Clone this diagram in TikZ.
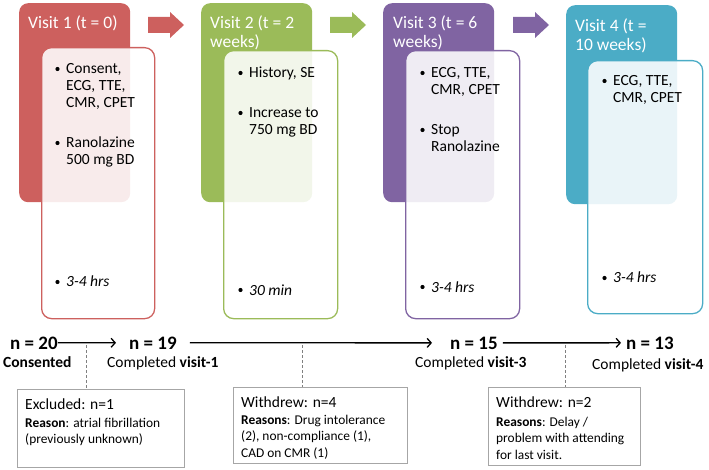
\documentclass[tikz,border=0pt]{standalone}
\usepackage{fontspec}
\setmainfont{Carlito}
\usepackage{tikz}
\usetikzlibrary{arrows.meta,positioning}
\definecolor{vred}{RGB}{205,96,94}
\definecolor{vgreen}{RGB}{155,187,89}
\definecolor{vpurple}{RGB}{128,100,162}
\definecolor{vteal}{RGB}{75,172,198}
\newcommand{\rows}[1]{\begin{tabular}[t]{@{}l@{}}#1\end{tabular}}
\tikzset{
	head/.style={rounded corners=9pt,anchor=north west,minimum width=111pt,minimum height=199pt,inner sep=0pt},
	card/.style={draw=#1,line width=1.3pt,fill=white,fill opacity=0.88,rounded corners=10pt,anchor=north west,inner sep=0pt},
	title/.style={anchor=base west,text=white,inner sep=0pt,font=\fontsize{17.5}{19}\selectfont},
	item/.style={anchor=base west,inner sep=0pt,font=\fontsize{15.5}{17}\selectfont},
	cnt/.style={anchor=base west,inner sep=0pt,font=\fontsize{19}{21}\selectfont\bfseries},
	done/.style={anchor=base west,inner sep=0pt,font=\fontsize{15.5}{17}\selectfont},
	outbox/.style={draw=gray!70,line width=1pt,anchor=north west,inner sep=0pt},
	whyhead/.style={anchor=base west,inner sep=0pt,font=\fontsize{15.5}{17}\selectfont},
	why/.style={anchor=base west,inner sep=0pt,font=\fontsize{13.4}{16.5}\selectfont},
	flow/.style={line width=1.3pt,-{Straight Barb[length=4pt,width=9pt]}},
	drop/.style={densely dashed,gray,line width=0.6pt}
}
\begin{document}
\begin{tikzpicture}[x=1pt,y=-1pt]
			\useasboundingbox (0,0) rectangle (709,470);
			\foreach \i/\x/\y/\c in {1/19/3/vred,2/201/3/vgreen,3/383/3/vpurple,4/566/5/vteal}
			\node[head,fill=\c] (h\i) at (\x,\y) {};
			\foreach \x/\c in {148/vred,330/vgreen,513/vpurple}
			\fill[\c] (\x,17) -- ++(22,0) -- ++(0,-5) -- ++(14,13) -- ++(-14,13) -- ++(0,-5) -- ++(-22,0) -- cycle;
			\foreach \i/\x/\y/\w/\h/\c in {1/41/47/113/271/vred,2/223/50/114/268/vgreen,3/405/50/114/268/vpurple,4/587/60/115/253/vteal}
			\node[card=\c,minimum width=\w pt,minimum height=\h pt] (k\i) at (\x,\y) {};
			\node[title] (t1) at (28,29) {Visit 1 (t = 0)};
			\node[title] (t2) at (210,29) {\rows{Visit 2 (t = 2\\weeks)}};
			\node[title] (t3) at (393,29) {\rows{Visit 3 (t = 6\\weeks)}};
			\node[title] (t4) at (575,32) {\rows{Visit 4 (t =\\10 weeks)}};
			\node[item] (a1) at (66,74) {\rows{Consent,\\ECG, TTE,\\CMR, CPET}};
			\node[item] (b1) at (66,148) {\rows{Ranolazine\\500 mg BD}};
			\node[item] (c1) at (66,287) {\itshape 3-4 hrs};
			\node[item] (a2) at (249,78) {History, SE};
			\node[item] (b2) at (249,118) {\rows{Increase to\\750 mg BD}};
			\node[item] (c2) at (249,295) {\itshape 30 min};
			\node[item] (a3) at (431,78) {\rows{ECG, TTE,\\CMR, CPET}};
			\node[item] (b3) at (431,135) {\rows{Stop\\Ranolazine}};
			\node[item] (c3) at (431,292) {\itshape 3-4 hrs};
			\node[item] (a4) at (613,86) {\rows{ECG, TTE,\\CMR, CPET}};
			\node[item] (c4) at (613,283) {\itshape 3-4 hrs};
			\foreach \n in {a1,b1,c1,a2,b2,c2,a3,b3,c3,a4,c4}
			\fill ([xshift=-8.5pt,yshift=5pt]\n.base west) circle (2.1pt);
			\node[cnt] (n20) at (10,349) {n = 20};
			\node[cnt] (n19) at (129,349) {n = 19};
			\node[cnt] (n15) at (450,349) {n = 15};
			\node[cnt] (n13) at (626,349) {n = 13};
			\node[done] (s20) at (3,367) {\bfseries Consented};
			\node[done] (s19) at (107,367) {Completed \textbf{visit-1}};
			\node[done] (s15) at (415,367) {Completed \textbf{visit-3}};
			\node[done] (s13) at (592,369) {Completed \textbf{visit-4}};
			\draw[flow,shorten >=13pt] (n20) -- (n19);
			\draw[flow,shorten <=13pt,shorten >=18pt] (n19) -- (n15);
			\draw[flow,shorten <=5pt,shorten >=5pt] (n15) -- (n13);
			\node[outbox,minimum width=167pt,minimum height=78pt] (ex) at (17,389) {};
			\node[outbox,minimum width=174pt,minimum height=76pt] (w4) at (233,387) {};
			\node[outbox,minimum width=152pt,minimum height=78pt] (w2) at (488,387) {};
			\coordinate (d1) at (86,345);
			\coordinate (d2) at (302,345);
			\coordinate (d3) at (565,345);
			\draw[drop] (d1) -- (d1 |- ex.north);
			\draw[drop] (d2) -- (d2 |- w4.north);
			\draw[drop] (d3) -- (d3 |- w2.north);
			\node[whyhead] (ext) at (25,409) {Excluded: n=1};
			\node[why] (exr) at (25,427) {\rows{\textbf{Reason}: atrial fibrillation\\(previously unknown)}};
			\node[whyhead] (w4t) at (241,407) {Withdrew: n=4};
			\node[why] (w4r) at (241,424) {\rows{\textbf{Reasons}: Drug intolerance\\(2), non-compliance (1),\\CAD on CMR (1)}};
			\node[whyhead] (w2t) at (496,407) {Withdrew: n=2};
			\node[why] (w2r) at (496,426) {\rows{\textbf{Reasons}: Delay /\\problem with attending\\for last visit.}};
		\end{tikzpicture}
\end{document}
